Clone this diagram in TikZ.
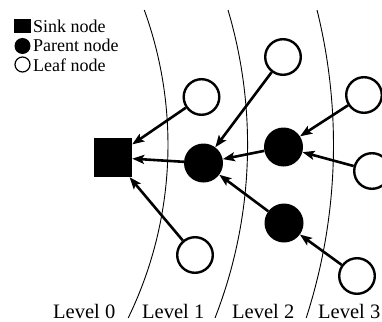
\documentclass[tikz,border=0pt]{standalone}
\usepackage{fontspec}
\setmainfont{Liberation Serif}
\usetikzlibrary{arrows.meta}
\begin{document}
\begin{tikzpicture}[x=1pt,y=1pt,
  leaf/.style={circle,draw,line width=2.4pt,minimum size=35.6pt,inner sep=0pt,fill=white},
  parent/.style={circle,fill=black,minimum size=39pt,inner sep=0pt},
  sinkbox/.style={rectangle,fill=black,minimum width=38pt,minimum height=39pt,inner sep=0pt},
  link/.style={line width=2.6pt,-{Stealth[length=12pt,width=9pt,inset=2.5pt]}},
  levelarc/.style={line width=0.9pt},
  lvl/.style={font=\fontsize{20.5}{24}\selectfont,anchor=base west,inner sep=0pt},
  legtxt/.style={font=\fontsize{18}{21}\selectfont,anchor=base west,inner sep=0pt}]
\useasboundingbox (0,0) rectangle (382,-321);
\coordinate (c) at (-228,-145);
% level boundaries
\draw[levelarc] ([shift={(c)}]19.93:396) arc[start angle=19.93,end angle=-25.9,radius=396];
\draw[levelarc] ([shift={(c)}]16.49:475.6) arc[start angle=16.49,end angle=-21.33,radius=475.6];
\draw[levelarc] ([shift={(c)}]13.91:561.5) arc[start angle=13.91,end angle=-17.95,radius=561.5];
% nodes
\node[sinkbox] (sink) at (113,-157.5) {};
\node[parent] (p1) at (203.5,-163) {};
\node[parent] (p2) at (283.5,-147) {};
\node[parent] (p3) at (284,-223) {};
\node[leaf] (l1) at (201.5,-97) {};
\node[leaf] (l2) at (195,-255) {};
\node[leaf] (l3) at (283,-57) {};
\node[leaf] (l4) at (364,-95) {};
\node[leaf] (l5) at (372,-171) {};
\node[leaf] (l6) at (357,-276) {};
% links
\draw[link] (l1) -- (sink);
\draw[link] (p1) -- (sink);
\draw[link] (l2) -- (sink);
\draw[link] (l3) -- (p1);
\draw[link] (p2) -- (p1);
\draw[link] (p3) -- (p1);
\draw[link] (l4) -- (p2);
\draw[link] (l5) -- (p2);
\draw[link] (l6) -- (p3);
% legend
\node[fill=black,minimum width=17pt,minimum height=14pt,inner sep=0pt] (ls) at (22.5,-26.5) {};
\node[circle,fill=black,minimum size=16pt,inner sep=0pt] (lp) at (22.5,-46) {};
\node[circle,draw,line width=1.2pt,minimum size=15pt,inner sep=0pt] (ll) at (22.5,-64.5) {};
\node[legtxt] (tsink) at (33,-33) {Sink node};
\node[legtxt] (tparent) at (33,-52) {Parent node};
\node[legtxt] (tleaf) at (33,-71) {Leaf node};
% level labels
\node[lvl] (lv0) at (53,-318) {Level 0};
\node[lvl] (lv1) at (142,-318) {Level 1};
\node[lvl] (lv2) at (232,-318) {Level 2};
\node[lvl] (lv3) at (318,-318) {Level 3};
\end{tikzpicture}
\end{document}
